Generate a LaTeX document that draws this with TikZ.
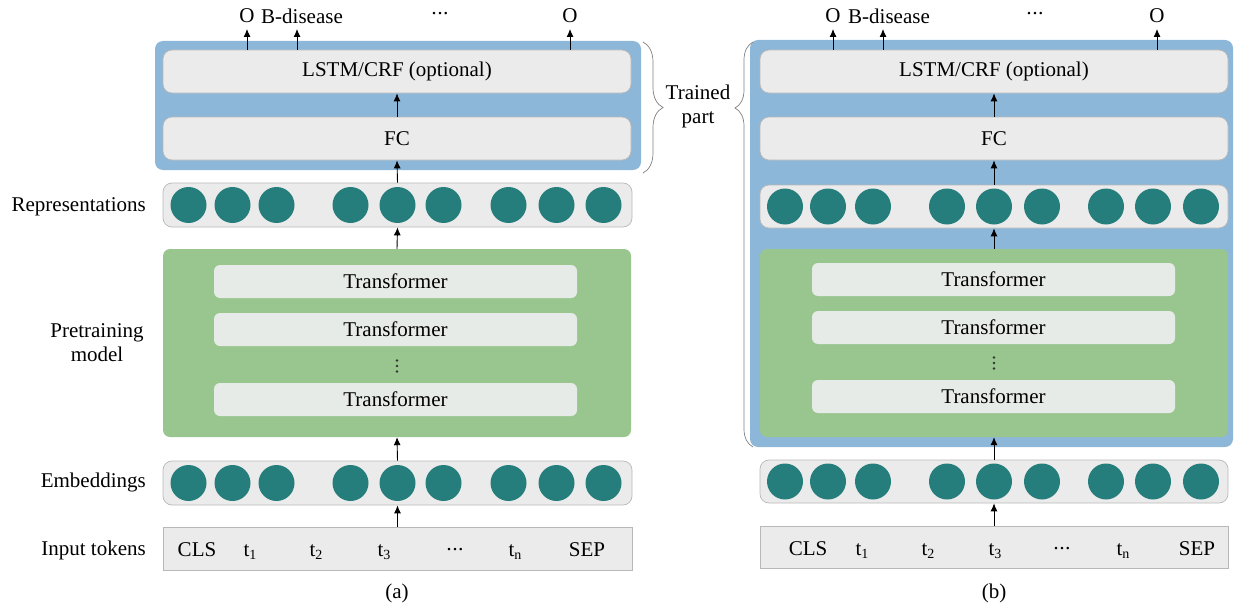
\documentclass[tikz,border=0pt]{standalone}
\usepackage{fontspec}
\setmainfont{Liberation Serif}
\usetikzlibrary{arrows.meta,decorations.pathreplacing}
\definecolor{bluebg}{HTML}{8CB7D9}
\definecolor{greenbg}{HTML}{99C68F}
\definecolor{boxgray}{HTML}{EBEBEB}
\definecolor{trgray}{HTML}{E7EBE7}
\definecolor{bordergray}{HTML}{B8B8B8}
\definecolor{tealdot}{HTML}{257E7B}
\newcommand\tsub[1]{t\raisebox{-0.4ex}{\fontsize{14}{14}\selectfont #1}}
\newcommand\mydots{\textperiodcentered\kern-1.2pt\textperiodcentered\kern-1.2pt\textperiodcentered}
\begin{document}
\begin{tikzpicture}[x=1pt,y=-1pt,
  font=\fontsize{21}{24}\selectfont,
  lbox/.style={draw=bordergray, fill=boxgray, rounded corners=9pt, inner sep=0pt, line width=0.7pt},
  tokbox/.style={draw=bordergray, fill=boxgray, inner sep=0pt, line width=0.7pt},
  trbox/.style={fill=trgray, rounded corners=6pt, inner sep=0pt},
  bluebox/.style={fill=bluebg, rounded corners=8pt, inner sep=0pt},
  greenbox/.style={fill=greenbg, rounded corners=7pt, inner sep=0pt},
  dotc/.style={circle, fill=tealdot, minimum size=36pt, inner sep=0pt},
  arr/.style={-{Latex[length=8pt,width=7pt]}, line width=0.9pt},
  tok/.style={anchor=base, inner sep=0pt},
  lab/.style={inner sep=0pt},
  vdot/.style={fill=black!80},
  brc/.style={draw=gray, line width=0.7pt, decorate, decoration={brace, amplitude=20pt}}
]
\useasboundingbox (0,0) rectangle (1234,610);

% ================= panel (a) =================
\node[bluebox, minimum width=486pt, minimum height=129pt] (blueA) at (398,105.5) {};
\node[lbox, minimum width=468pt, minimum height=43pt] (lstmA) at (397,71.5) {LSTM/CRF (optional)};
\node[lbox, minimum width=468pt, minimum height=43pt] (fcA) at (397,138.5) {FC};
\node[lbox, minimum width=469pt, minimum height=44pt] (repA) at (397.5,205) {};
\node[greenbox, minimum width=468pt, minimum height=188pt] (greenA) at (397,343) {};
\node[trbox, minimum width=363pt, minimum height=33pt] (trA1) at (395.5,281.5) {Transformer};
\node[trbox, minimum width=363pt, minimum height=33pt] (trA2) at (395.5,329.5) {Transformer};
\node[trbox, minimum width=363pt, minimum height=33pt] (trA3) at (395.5,399.5) {Transformer};
\foreach \yy in {360.5,366,371.5} \fill[vdot] (397,\yy) circle (1.3);
\node[lbox, minimum width=469pt, minimum height=44pt] (embA) at (397.5,483) {};
\node[tokbox, minimum width=469pt, minimum height=43pt] (tokA) at (397.5,548.5) {};

\foreach \dx [count=\i] in {-209,-165,-121,-47,0,46,111,159,206} {
  \node[dotc] (rA\i) at (397.5+\dx,205) {};
  \node[dotc] (eA\i) at (397.5+\dx,483) {};
}

% tokens (a)
\node[tok] (tA1) at (197,556) {CLS};
\node[tok] (tA2) at (250,556) {\tsub{1}};
\node[tok] (tA3) at (316,556) {\tsub{2}};
\node[tok] (tA4) at (384,556) {\tsub{3}};
\node[tok] (tA5) at (455,556) {\mydots};
\node[tok] (tA6) at (515,556) {\tsub{n}};
\node[tok] (tA7) at (587,556) {SEP};

% outputs (a)
\node[lab] (oA1) at (247,16) {O};
\node[lab] (oA2) at (302,16) {B-disease};
\node[lab] (oA3) at (440,16) {\mydots};
\node[lab] (oA4) at (570,16) {O};
\coordinate (pA1) at (247,29);
\coordinate (pA2) at (297,29);
\coordinate (pA4) at (570,29);
\draw[arr] (lstmA.north -| pA1) -- (pA1);
\draw[arr] (lstmA.north -| pA2) -- (pA2);
\draw[arr] (lstmA.north -| pA4) -- (pA4);

\draw[arr] (fcA.north) -- (lstmA.south);
\draw[arr] (repA.north) -- (fcA.south);
\draw[arr] (greenA.north) -- (repA.south);
\draw[arr] (embA.north) -- (greenA.south);
\draw[arr] (tokA.north) -- (embA.south);

% left labels
\node[lab, anchor=east] (lRep) at (146,207) {Representations};
\node[lab, align=center] (lPre) at (97,343) {Pretraining\\model};
\node[lab, anchor=east] (lEmb) at (146,482) {Embeddings};
\node[lab, anchor=base east] (lTok) at (146,555) {Input tokens};
\node[lab] (capA) at (397,593) {(a)};

% brace (a)
\coordinate (bA1) at (643,42);
\coordinate (bA2) at (643,173);
\draw[brc] (bA1) -- (bA2);
\node[lab, align=center] (trained) at (698,106) {Trained\\part};

% ================= panel (b) =================
\node[bluebox, minimum width=483pt, minimum height=407pt] (blueB) at (991.5,243.5) {};
\node[lbox, minimum width=468pt, minimum height=43pt] (lstmB) at (994,71.5) {LSTM/CRF (optional)};
\node[lbox, minimum width=468pt, minimum height=43pt] (fcB) at (994,138.5) {FC};
\node[lbox, minimum width=468pt, minimum height=43pt] (repB) at (994,206.5) {};
\node[greenbox, minimum width=468pt, minimum height=188pt] (greenB) at (994,343) {};
\node[trbox, minimum width=363pt, minimum height=33pt] (trB1) at (993.5,279.5) {Transformer};
\node[trbox, minimum width=363pt, minimum height=33pt] (trB2) at (993.5,327.5) {Transformer};
\node[trbox, minimum width=363pt, minimum height=33pt] (trB3) at (993.5,396.5) {Transformer};
\foreach \yy in {357.5,363,368.5} \fill[vdot] (994,\yy) circle (1.3);
\node[lbox, minimum width=468pt, minimum height=43pt] (embB) at (994,481.5) {};
\node[tokbox, minimum width=468pt, minimum height=42pt] (tokB) at (994,547) {};

\foreach \dx [count=\i] in {-209,-166,-121,-47,0,48,112,159,207} {
  \node[dotc] (rB\i) at (994+\dx,206.5) {};
  \node[dotc] (eB\i) at (994+\dx,481.5) {};
}

% tokens (b)
\node[tok] (tB1) at (808,555) {CLS};
\node[tok] (tB2) at (862,555) {\tsub{1}};
\node[tok] (tB3) at (928,555) {\tsub{2}};
\node[tok] (tB4) at (995,555) {\tsub{3}};
\node[tok] (tB5) at (1062,555) {\mydots};
\node[tok] (tB6) at (1123,555) {\tsub{n}};
\node[tok] (tB7) at (1197,555) {SEP};

% outputs (b)
\node[lab] (oB1) at (833,16) {O};
\node[lab] (oB2) at (889,16) {B-disease};
\node[lab] (oB3) at (1035,16) {\mydots};
\node[lab] (oB4) at (1157,16) {O};
\coordinate (pB1) at (833,29);
\coordinate (pB2) at (883,29);
\coordinate (pB4) at (1157,29);
\draw[arr] (lstmB.north -| pB1) -- (pB1);
\draw[arr] (lstmB.north -| pB2) -- (pB2);
\draw[arr] (lstmB.north -| pB4) -- (pB4);

\draw[arr] (fcB.north) -- (lstmB.south);
\draw[arr] (repB.north) -- (fcB.south);
\draw[arr] (greenB.north) -- (repB.south);
\draw[arr] (embB.north) -- (greenB.south);
\draw[arr] (tokB.north) -- (embB.south);

\node[lab] (capB) at (994,593) {(b)};

% brace (b)
\coordinate (bB1) at (753,447);
\coordinate (bB2) at (753,42);
\draw[brc, decoration={brace, amplitude=18pt, aspect=0.837}] (bB1) -- (bB2);
\end{tikzpicture}
\end{document}
